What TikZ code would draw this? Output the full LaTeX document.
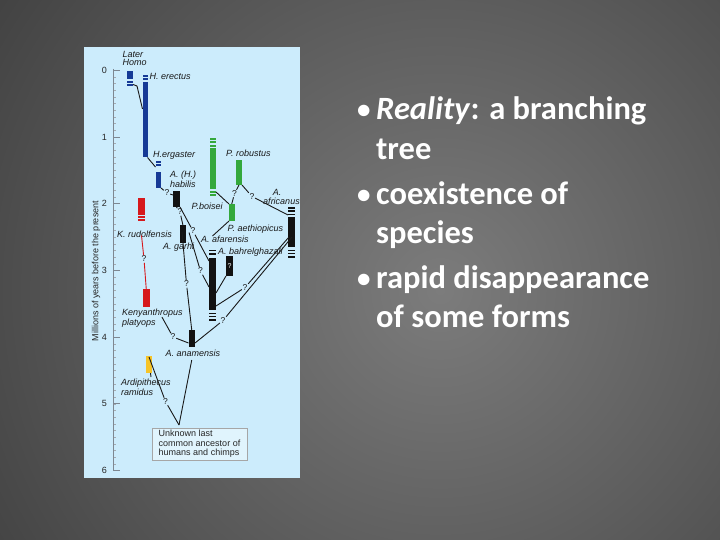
\documentclass[tikz,border=0pt]{standalone}
\usepackage{fontspec}
\newfontfamily\figfont{Liberation Sans}
\newfontfamily\slidefont{Carlito}
\usetikzlibrary{calc}
\definecolor{panel}{RGB}{204,236,252}
\definecolor{hblue}{RGB}{22,58,150}
\definecolor{hgreen}{RGB}{52,168,60}
\definecolor{hred}{RGB}{214,24,28}
\definecolor{hyellow}{RGB}{246,196,40}
\definecolor{hblack}{RGB}{18,18,18}
\definecolor{axisgray}{RGB}{125,135,145}
\definecolor{bgin}{RGB}{124,124,124}
\definecolor{bgout}{RGB}{22,22,22}
\definecolor{boxfill}{RGB}{224,244,253}
\newcommand{\dsh}[4]{\fill[#1] ({#2},{#4}) rectangle ({#3},{#4+1.6});}
\begin{document}
\begin{tikzpicture}[x=1pt,y=-1pt,
  barbox/.style={fill=#1, draw=none, inner sep=0pt, outer sep=0pt},
  lab/.style={font=\figfont\itshape\fontsize{9}{9}\selectfont, inner sep=0pt, text height=6.5pt, text depth=1.9pt, text=black!90},
  qm/.style={font=\figfont\fontsize{8.5}{8.5}\selectfont, inner sep=0.6pt, text=black!90},
  link/.style={draw=black!90, line width=0.9pt},
  bullettext/.style={font=\slidefont\bfseries\fontsize{32.5}{32.5}\selectfont, text=white, inner sep=0pt, anchor=base west},
  bulletdot/.style={font=\slidefont\bfseries\fontsize{27}{27}\selectfont, text=white, inner sep=0pt, anchor=base west}]
\useasboundingbox (0,0) rectangle (720,540);
% background
\begin{scope}
\clip (0,0) rectangle (720,540);
\shade[inner color=bgin, outer color=bgout] (440,290) circle (940);
\end{scope}
% panel
\fill[panel] (84,47) rectangle (300,478);
% axis
\draw[axisgray, line width=0.8pt] (113.5,69) -- (113.5,471);
\foreach \i in {1,...,59} {\draw[axisgray!70, line width=0.4pt] (113.5,{70.3+6.67*\i}) -- (116,{70.3+6.67*\i});}
\foreach \t in {0,...,6} {
  \draw[axisgray, line width=0.8pt] (113.5,{70.3+66.7*\t}) -- (120,{70.3+66.7*\t});
  \node[font=\figfont\fontsize{9}{9}\selectfont, inner sep=0pt, text=black!85] (tick\t) at (104.5,{70.3+66.7*\t}) {\t};
}
\node[rotate=90, font=\figfont\fontsize{9}{9}\selectfont, inner sep=0pt, text=black!85] (axlab) at (96,271) {Millions of years before the present};
% bars
\node[barbox=hblue, minimum width=6, minimum height=8] (laterhomo) at (130,75) {};
\node[barbox=hblue, minimum width=5, minimum height=75.5] (erectus) at (145,119.75) {};
\node[barbox=hblue, minimum width=5.5, minimum height=16] (habilis) at (158.25,180) {};
\node[barbox=hblack, minimum width=7, minimum height=16] (unk) at (176.5,199) {};
\node[barbox=hblack, minimum width=6, minimum height=17] (garhi) at (183,234) {};
\node[barbox=hred, minimum width=7, minimum height=17] (krud) at (141.5,206.5) {};
\node[barbox=hred, minimum width=6.5, minimum height=18] (kplat) at (146.25,298) {};
\node[barbox=hgreen, minimum width=6.5, minimum height=40.5] (boisei) at (212.75,168.75) {};
\node[barbox=hgreen, minimum width=6, minimum height=25] (robustus) at (239,172.5) {};
\node[barbox=hgreen, minimum width=5.5, minimum height=17] (aeth) at (231.75,212.5) {};
\node[barbox=hblack, minimum width=6.5, minimum height=30] (africanus) at (291.25,232) {};
\node[barbox=hblack, minimum width=7, minimum height=52] (afarensis) at (212.5,284) {};
\node[barbox=hblack, minimum width=7, minimum height=20, font=\figfont\fontsize{7}{7}\selectfont, text=white] (bahr) at (229.5,266) {?};
\node[barbox=hblack, minimum width=6.5, minimum height=17] (anam) at (191.75,338.5) {};
\node[barbox=hyellow, minimum width=6, minimum height=17] (ardi) at (148.5,364.5) {};
% dashes
\dsh{hblue}{127}{133}{81} \dsh{hblue}{127}{133}{84}
\dsh{hblue}{142.5}{147.5}{75.5} \dsh{hblue}{142.5}{147.5}{78.5}
\dsh{hblue}{155.5}{161}{161.5} \dsh{hblue}{155.5}{161}{164.5}
\dsh{hred}{138}{145}{216.5} \dsh{hred}{138}{145}{219.5}
\dsh{hgreen}{209.5}{216}{138} \dsh{hgreen}{209.5}{216}{141.5} \dsh{hgreen}{209.5}{216}{145}
\dsh{hgreen}{209.5}{216}{191} \dsh{hgreen}{209.5}{216}{194}
\dsh{hblack}{288}{294.5}{207} \dsh{hblack}{288}{294.5}{210.3} \dsh{hblack}{288}{294.5}{213.6}
\dsh{hblack}{288}{294.5}{249.5} \dsh{hblack}{288}{294.5}{252.8} \dsh{hblack}{288}{294.5}{256}
\dsh{hblack}{209}{216}{249.5} \dsh{hblack}{209}{216}{253}
\dsh{hblack}{209}{216}{312.5} \dsh{hblack}{209}{216}{315.8} \dsh{hblack}{209}{216}{319}
% labels
\node[lab, anchor=west] (later1) at (122.5,55) {Later};
\node[lab, anchor=west] (later2) at (122.5,63.5) {Homo};
\node[lab, anchor=west] (erectuslab) at (149.5,77.5) {H. erectus};
\node[lab, anchor=west] (ergasterlab) at (153,155.5) {H.ergaster};
\node[lab, anchor=west] (habilislab1) at (170,175.5) {A. (H.)};
\node[lab, anchor=west] (habilislab2) at (170,185.5) {habilis};
\node[lab, anchor=west] (robustuslab) at (226,154.5) {P. robustus};
\node[lab, anchor=west] (boiseilab) at (191.5,207.5) {P.boisei};
\node[lab] (africanuslab1) at (277,193) {A.};
\node[lab] (africanuslab2) at (281.5,202) {africanus};
\node[lab] (krudlab) at (144.5,235) {K. rudolfensis};
\node[lab, anchor=west] (aethlab) at (227.5,229) {P. aethiopicus};
\node[lab, anchor=west] (afarlab) at (201,240.5) {A. afarensis};
\node[lab, anchor=west] (garhilab) at (163,247.5) {A. garhi};
\node[lab, anchor=west] (bahrlab) at (218,252) {A. bahrelghazali};
\node[lab, anchor=west] (kenlab) at (122,313) {Kenyanthropus};
\node[lab, anchor=west] (platlab) at (122,323) {platyops};
\node[lab, anchor=west] (anamlab) at (165.5,354) {A. anamensis};
\node[lab, anchor=west] (ardilab) at (121,383) {Ardipithecus};
\node[lab, anchor=west] (ramlab) at (121,393) {ramidus};
% question marks
\node[qm] (q1) at (167,193) {?};
\node[qm] (q2) at (180,212) {?};
\node[qm] (q3) at (193,231) {?};
\node[qm] (q4) at (200.5,271) {?};
\node[qm] (q5) at (186.5,284) {?};
\node[qm] (q6) at (234.5,193.5) {?};
\node[qm] (q7) at (252,196.5) {?};
\node[qm] (q8) at (245,287.5) {?};
\node[qm] (q9) at (223,320.5) {?};
\node[qm] (q10) at (144,259) {?};
\node[qm] (q11) at (173,337) {?};
\node[qm] (q12) at (165.5,401.5) {?};
\coordinate (apex) at (179,425);
% connectors
\draw[link] ([yshift=-5.5]laterhomo.south east) -- ++(4,1.5) -- ([yshift=-27]erectus.north west);
\draw[link] (erectus.south east) -- ([yshift=5]habilis.north west);
\draw[link] (habilis.south east) -- (q1) -- ([yshift=-4]unk.north west);
\draw[link] (unk.south) -- (q2) -- (garhi.north);
\draw[link] (unk.south east) -- (q3) -- ([yshift=-3]afarensis.north west);
\draw[link] ([shift={(6,-10)}]garhi.south) -- (q4) -- ([yshift=-29]afarensis.north west);
\draw[link] ([shift={(-1,-11)}]garhi.south) -- (q5) -- (anam.north);
\draw[link] ([yshift=-3]boisei.south east) -- (aeth.north west);
\draw[link] (robustus.south) -- (q6) -- (aeth.north);
\draw[link] (robustus.south east) -- (q7) -- ([yshift=2]africanus.north west);
\draw[link] (aeth.south west) -- ([yshift=22]afarensis.north);
\draw[link] (bahr.south west) -- ([yshift=-35]afarensis.north east);
\draw[link] ([shift={(1,-10)}]africanus.south west) -- (q8) -- ([yshift=-48]afarensis.north east);
\draw[link] ([shift={(4,-10)}]africanus.south west) -- (q9) -- ([yshift=-13]anam.north east);
\draw[link, draw=hred] ([shift={(-3,-4)}]krudlab.south) -- (q10) -- (kplat.north);
\draw[link] ([shift={(6,-6)}]platlab.east) -- (q11) -- ([yshift=-13]anam.north west);
\draw[link] ([shift={(0.5,-16)}]ardi.south) -- (q12) -- (apex);
\draw[link] (apex) -- ([yshift=-13]anam.south);
\draw[link] ([xshift=2]ardi.south) -- ++(0.5,4);
% last common ancestor box
\node[draw=gray!70, fill=boxfill, line width=0.5pt, minimum width=95, minimum height=32, align=left, inner sep=0pt, font=\figfont\fontsize{9}{9.5}\selectfont, text=black!85] (lca) at (199.5,444) {Unknown last\\common ancestor of\\humans and chimps};
% bullet text
\node[bulletdot] (bul1) at (357,119) {•};
\node[bullettext] (line1) at (376,120) {\textit{Reality}: a branching};
\node[bullettext] (line2) at (376,160) {tree};
\node[bulletdot] (bul2) at (357,204) {•};
\node[bullettext] (line3) at (376,205) {coexistence of};
\node[bullettext] (line4) at (376,243.5) {species};
\node[bulletdot] (bul3) at (357,287.5) {•};
\node[bullettext] (line5) at (376,288.5) {rapid disappearance};
\node[bullettext] (line6) at (376,327) {of some forms};
\end{tikzpicture}
\end{document}
